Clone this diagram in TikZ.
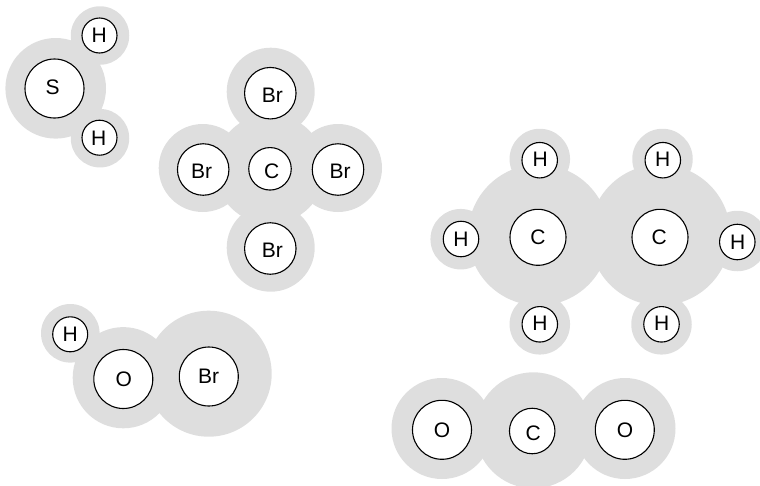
\documentclass[tikz,border=0pt]{standalone}
\usepackage{fontspec}
\setmainfont{Liberation Sans}
\definecolor{halogray}{HTML}{DEDEDE}
\tikzset{
  halo/.style={circle,fill=halogray,draw=none,inner sep=0pt,outer sep=0pt,minimum size=#1},
  disc/.style={circle,fill=white,draw=black,line width=1.1pt,inner sep=0pt,outer sep=0pt,minimum size=#1},
  atomlabel/.style={inner sep=0pt,font=\fontsize{21}{21}\selectfont}
}
\newcommand{\halonode}[3]{\node[halo=#3pt] (h#1) at (#2) {};}
\newcommand{\discnode}[5]{\node[disc=#3pt] (d#1) at (#2) {};\node[atomlabel] (t#1) at (#4) {#5};}
\begin{document}
\begin{tikzpicture}[x=1pt,y=-1pt]
\useasboundingbox (0,0) rectangle (760,485);
% halos
\halonode{a}{100,35.5}{58.5}
\halonode{b}{55.7,88.3}{100.6}
\halonode{c}{100,138.2}{58.5}
\halonode{d}{270,169}{110}
\halonode{e}{270.7,91.7}{88}
\halonode{f}{202.7,168}{88}
\halonode{g}{338,168}{88}
\halonode{i}{270.7,247.7}{88}
\halonode{j}{539.8,159}{60.5}
\halonode{k}{662.5,159}{60.5}
\halonode{l}{538.6,235}{141}
\halonode{m}{660,235}{141}
\halonode{n}{460.7,239.2}{60.5}
\halonode{o}{737.3,241}{60.5}
\halonode{p}{539.8,324.3}{60.5}
\halonode{q}{661.5,324.3}{60.5}
\halonode{r}{442,428.5}{101}
\halonode{s}{533.3,430.3}{116}
\halonode{u}{625,428.5}{101}
\halonode{v}{70.3,333.3}{58.6}
\halonode{w}{123.3,377.7}{101.2}
\halonode{x}{208.7,373.7}{126}
% discs and labels
\discnode{a}{99.5,35.5}{35}{99.3,35.6}{H}
\discnode{b}{54.5,88.5}{59}{52.7,87.3}{S}
\discnode{c}{99.5,137.7}{35}{98.7,138}{H}
\discnode{d}{270,168.8}{42.5}{271.7,171.3}{C}
\discnode{e}{270.3,93.2}{51.5}{272.3,95.3}{Br}
\discnode{f}{203.2,169.5}{51.5}{201.7,171}{Br}
\discnode{g}{338,169.5}{51.5}{340,171}{Br}
\discnode{i}{270.3,248.5}{51.5}{272.3,250.3}{Br}
\discnode{j}{539.7,160.2}{35.5}{540.3,159.6}{H}
\discnode{k}{662.8,160.2}{35.5}{662.7,159.6}{H}
\discnode{l}{538,237.3}{56}{538,237}{C}
\discnode{m}{660,237.3}{56}{659.3,237}{C}
\discnode{n}{461,239}{35.5}{461,239.6}{H}
\discnode{o}{737.3,242}{35.5}{737.7,242}{H}
\discnode{p}{539.8,324.3}{35.5}{540,323.6}{H}
\discnode{q}{661.5,324.3}{35.5}{661.7,323.6}{H}
\discnode{r}{442,429.8}{59}{442,430.3}{O}
\discnode{s}{532.2,431}{45.5}{533.3,433}{C}
\discnode{u}{624.8,429.8}{59}{625,430.3}{O}
\discnode{v}{70.2,334.3}{35}{70.3,334.3}{H}
\discnode{w}{123.3,379}{59}{123.7,379.6}{O}
\discnode{x}{208.8,376.5}{59}{208.7,376.3}{Br}
\end{tikzpicture}
\end{document}
